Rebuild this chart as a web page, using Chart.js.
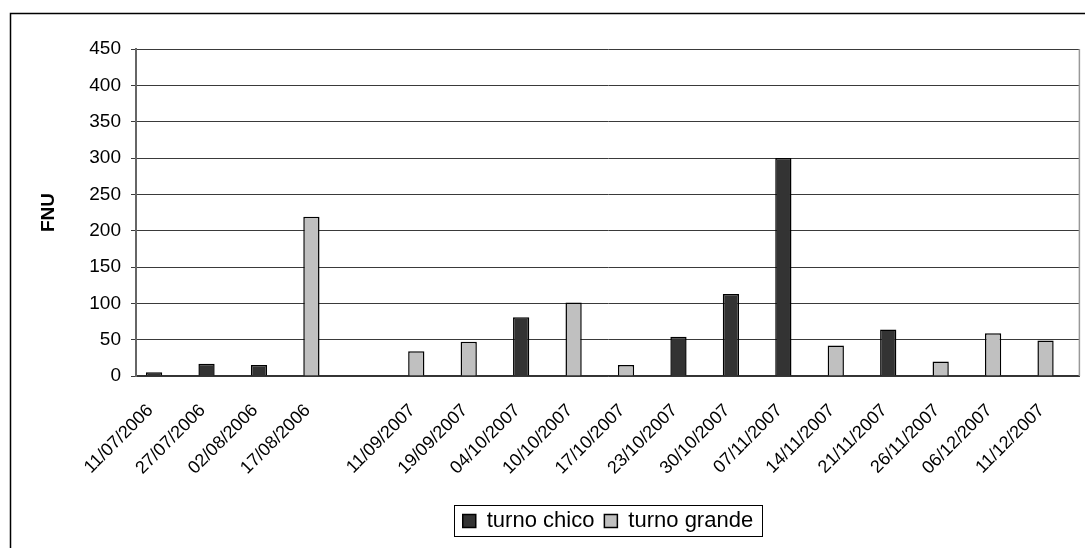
<!DOCTYPE html>
<html>
<head>
<meta charset="utf-8">
<script src="https://cdn.jsdelivr.net/npm/chart.js@4"></script>
<style>
    body { margin: 0; background: #fff; }
    canvas { display: block; }
</style>
</head>
<body>
<canvas id="turbChart" width="1085" height="548"></canvas>
<script>
// Dates de prélèvement ('' = case vide entre 2006 et 2007)
const categories = [
    '11/07/2006', '27/07/2006', '02/08/2006', '17/08/2006', '',
    '11/09/2007', '19/09/2007', '04/10/2007', '10/10/2007', '17/10/2007',
    '23/10/2007', '30/10/2007', '07/11/2007', '14/11/2007', '21/11/2007',
    '26/11/2007', '06/12/2007', '11/12/2007'
];
const turnoChico = [5, 17, 15, null, null, null, null, 81, null, null, 54, 113, 300, null, 64, null, null, null];
const turnoGrande = [null, null, null, 219, null, 34, 47, null, 101, 15, null, null, null, 42, null, 20, 59, 49];
const yTicks = [0, 50, 100, 150, 200, 250, 300, 350, 400, 450];

const FONT = "'Liberation Sans', Arial, sans-serif";

// cadre extérieur + bordure droite du graphique + cadre de la légende
const framePlugin = {
    id: 'frame',
    beforeDraw(chart) {
        const ctx = chart.ctx;
        ctx.save();
        ctx.fillStyle = '#fff';
        ctx.fillRect(0, 0, chart.width, chart.height);
        ctx.strokeStyle = '#000';
        ctx.lineWidth = 1.5;
        ctx.beginPath();
        ctx.moveTo(10.5, chart.height);
        ctx.lineTo(10.5, 13.5);
        ctx.lineTo(chart.width, 13.5);
        ctx.stroke();
        ctx.restore();
    },
    afterDraw(chart) {
        const ctx = chart.ctx;
        const a = chart.chartArea;
        ctx.save();
        ctx.strokeStyle = '#999';
        ctx.lineWidth = 1.5;
        ctx.beginPath();
        ctx.moveTo(a.right - 0.5, a.top);
        ctx.lineTo(a.right - 0.5, a.bottom);
        ctx.stroke();

        const boxes = chart.legend.legendHitBoxes;
        if (boxes && boxes.length) {
            const x0 = Math.min(...boxes.map(b => b.left)) - 9;
            const x1 = Math.max(...boxes.map(b => b.left + b.width)) + 9;
            const y0 = Math.min(...boxes.map(b => b.top)) - 5;
            const y1 = Math.max(...boxes.map(b => b.top + b.height)) + 4;
            ctx.strokeStyle = '#000';
            ctx.lineWidth = 1;
            ctx.strokeRect(Math.round(x0) + 0.5, Math.round(y0) + 0.5, Math.round(x1 - x0), Math.round(y1 - y0));
        }
        ctx.restore();
    }
};

new Chart(document.getElementById('turbChart').getContext('2d'), {
    type: 'bar',
    data: {
        labels: categories,
        datasets: [{
            label: 'turno chico',
            data: turnoChico,
            backgroundColor: '#333333',
            borderColor: '#000',
            borderWidth: 1.5,
            stack: 'a'
        }, {
            label: 'turno grande',
            data: turnoGrande,
            backgroundColor: '#c0c0c0',
            borderColor: '#000',
            borderWidth: 1.5,
            stack: 'a'
        }, {
            // série vide : garde les barres à gauche de chaque catégorie (comme Excel)
            label: '',
            data: categories.map(() => null),
            stack: 'b'
        }]
    },
    plugins: [framePlugin],
    options: {
        responsive: false,
        animation: false,
        categoryPercentage: 0.62,
        barPercentage: 1,
        layout: { padding: { top: 49, right: 2, left: 0, bottom: 6 } },
        scales: {
            x: {
                stacked: true,
                grid: { display: false },
                border: { display: true, color: '#333', width: 1.5 },
                ticks: {
                    autoSkip: false,
                    maxRotation: 45,
                    minRotation: 45,
                    labelOffset: -12,
                    padding: 16,
                    color: '#000',
                    font: { family: FONT, size: 18 }
                },
                afterFit: (scale) => { scale.height = 124; }
            },
            y: {
                stacked: true,
                min: 0,
                max: 450,
                afterBuildTicks: (scale) => { scale.ticks = yTicks.map(v => ({ value: v })); },
                grid: { color: '#3a3a3a', lineWidth: 1, tickLength: 5 },
                border: { color: '#666', width: 2 },
                ticks: { color: '#000', padding: 10, font: { family: FONT, size: 19 } },
                title: {
                    display: true,
                    text: 'FNU',
                    color: '#000',
                    padding: { top: 37, bottom: 0 },
                    font: { family: FONT, size: 19, weight: 'bold' }
                },
                afterFit: (scale) => { scale.width = 136; }
            }
        },
        plugins: {
            legend: {
                position: 'bottom',
                fullSize: false,
                labels: {
                    color: '#000',
                    boxWidth: 13,
                    boxHeight: 13,
                    padding: 10,
                    font: { family: FONT, size: 22 },
                    filter: (item) => item.datasetIndex < 2
                }
            },
            tooltip: { enabled: false }
        }
    }
});
</script>
</body>
</html>
